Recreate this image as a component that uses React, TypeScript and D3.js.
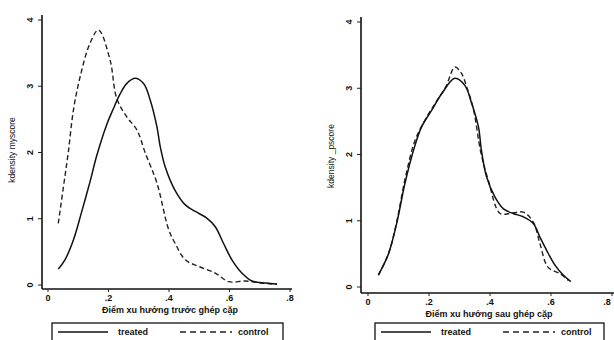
import React, { useEffect, useRef } from "react";
import * as d3 from "d3";

// kdensity before matching (myscore)
const beforeTreatedX = [0.034, 0.056, 0.084, 0.111, 0.139, 0.161, 0.194, 0.216, 0.238, 0.26, 0.288, 0.316, 0.338, 0.36, 0.371, 0.387, 0.42, 0.454, 0.487, 0.525, 0.553, 0.58, 0.608, 0.641, 0.674, 0.719, 0.757];
const beforeTreatedY = [0.24, 0.38, 0.68, 1.1, 1.56, 1.95, 2.42, 2.66, 2.88, 3.04, 3.12, 3.04, 2.79, 2.39, 2.09, 1.79, 1.43, 1.21, 1.11, 1.01, 0.88, 0.63, 0.38, 0.18, 0.06, 0.03, 0.015];
const beforeControlX = [0.034, 0.051, 0.067, 0.084, 0.106, 0.139, 0.167, 0.205, 0.227, 0.26, 0.294, 0.321, 0.36, 0.398, 0.42, 0.454, 0.498, 0.553, 0.597, 0.652, 0.708, 0.757];
const beforeControlY = [0.93, 1.48, 2.0, 2.64, 3.14, 3.65, 3.85, 3.4, 2.82, 2.54, 2.34, 2.0, 1.54, 0.85, 0.63, 0.38, 0.28, 0.18, 0.05, 0.06, 0.03, 0.01];

// kdensity after matching (_pscore)
const afterTreatedX = [0.034, 0.067, 0.094, 0.121, 0.149, 0.176, 0.209, 0.242, 0.285, 0.318, 0.34, 0.362, 0.372, 0.389, 0.416, 0.444, 0.476, 0.509, 0.542, 0.564, 0.586, 0.613, 0.64, 0.665];
const afterTreatedY = [0.18, 0.5, 0.96, 1.56, 2.06, 2.42, 2.67, 2.92, 3.15, 3.04, 2.77, 2.42, 2.06, 1.66, 1.36, 1.18, 1.11, 1.06, 0.96, 0.75, 0.55, 0.33, 0.18, 0.08];
const afterControlX = [0.034, 0.067, 0.094, 0.121, 0.154, 0.187, 0.22, 0.255, 0.285, 0.307, 0.325, 0.345, 0.37, 0.395, 0.433, 0.466, 0.509, 0.542, 0.564, 0.59, 0.63, 0.657];
const afterControlY = [0.18, 0.5, 0.98, 1.62, 2.21, 2.52, 2.77, 3.02, 3.32, 3.22, 3.0, 2.7, 2.03, 1.6, 1.11, 1.11, 1.13, 0.98, 0.65, 0.3, 0.2, 0.1];

const xTicks = [0, 0.2, 0.4, 0.6, 0.8];
const yTicks = [0, 1, 2, 3, 4];
const seriesNames = ["treated", "control"];

const FONT = "'Liberation Sans', Arial, sans-serif";
const W = 614;

function zip(xs: number[], ys: number[]) {
	return xs.map((x, i) => [x, ys[i]] as [number, number]);
}

function drawPanel(svg: any, o: any) {
	const x = d3.scaleLinear().domain([0, 0.8]).range([o.x0, o.x8]);
	const y = d3.scaleLinear().domain([0, 4]).range([o.y0, o.y4]);
	const g = svg.append("g");

	// axis lines
	g.append("line")
		.attr("x1", o.axisX).attr("x2", o.axisX)
		.attr("y1", o.axisTop).attr("y2", o.axisY)
		.attr("stroke", "#111").attr("stroke-width", 1.6);
	g.append("line")
		.attr("x1", o.axisX).attr("x2", o.axisRight)
		.attr("y1", o.axisY).attr("y2", o.axisY)
		.attr("stroke", "#111").attr("stroke-width", 1.6);

	// y ticks, rotated labels like stata
	yTicks.forEach((t) => {
		g.append("line")
			.attr("x1", o.axisX - 4).attr("x2", o.axisX)
			.attr("y1", y(t)).attr("y2", y(t))
			.attr("stroke", "#222").attr("stroke-width", 1);
		g.append("text")
			.attr("transform", "translate(" + (o.axisX - 9) + "," + y(t) + ") rotate(-90)")
			.attr("text-anchor", "middle")
			.attr("font-family", FONT).attr("font-size", 9).attr("font-weight", "bold")
			.attr("fill", "#111")
			.text(t);
	});

	// x ticks (last label kept inside the page)
	const fmt = (d: number) => (d === 0 ? "0" : d3.format(".1f")(d).replace(/^0/, ""));
	xTicks.forEach((t) => {
		g.append("line")
			.attr("x1", x(t)).attr("x2", x(t))
			.attr("y1", o.axisY).attr("y2", o.axisY + 3)
			.attr("stroke", "#222").attr("stroke-width", 1);
		g.append("text")
			.attr("x", Math.min(x(t), W - 7)).attr("y", o.axisY + 12)
			.attr("text-anchor", "middle")
			.attr("font-family", FONT).attr("font-size", 9).attr("font-weight", "bold")
			.attr("fill", "#111")
			.text(fmt(t));
	});

	// titles
	g.append("text")
		.attr("x", o.titleX).attr("y", o.axisY + 24)
		.attr("text-anchor", "middle")
		.attr("font-family", FONT).attr("font-size", 9).attr("font-weight", "bold")
		.attr("fill", "#111")
		.text(o.xTitle);
	g.append("text")
		.attr("transform", "translate(" + o.yTitleX + "," + o.yTitleY + ") rotate(-90)")
		.attr("text-anchor", "middle")
		.attr("font-family", FONT).attr("font-size", 8.5)
		.attr("fill", "#111")
		.text(o.yTitle);

	const line = d3.line()
		.x((d: any) => x(d[0]))
		.y((d: any) => y(d[1]))
		.curve(d3.curveCatmullRom.alpha(0.5));

	g.append("path")
		.datum(o.control)
		.attr("d", line)
		.attr("fill", "none")
		.attr("stroke", "#222")
		.attr("stroke-width", 1.4)
		.attr("stroke-dasharray", "5,3");
	g.append("path")
		.datum(o.treated)
		.attr("d", line)
		.attr("fill", "none")
		.attr("stroke", "#111")
		.attr("stroke-width", 1.5);

	// legend
	const lg = g.append("g");
	lg.append("rect")
		.attr("x", o.legX).attr("y", 323)
		.attr("width", o.legW).attr("height", 24)
		.attr("fill", "white").attr("stroke", "#111").attr("stroke-width", 1.3);
	const ly = 332;
	lg.append("line")
		.attr("x1", o.legX + 6).attr("x2", o.legX + 56)
		.attr("y1", ly).attr("y2", ly)
		.attr("stroke", "#111").attr("stroke-width", 1.5);
	lg.append("text")
		.attr("x", o.legX + 66).attr("y", ly + 3)
		.attr("font-family", FONT).attr("font-size", 9).attr("font-weight", "bold")
		.attr("fill", "#111")
		.text(seriesNames[0]);
	lg.append("line")
		.attr("x1", o.legX + 128).attr("x2", o.legX + 180)
		.attr("y1", ly).attr("y2", ly)
		.attr("stroke", "#222").attr("stroke-width", 1.4)
		.attr("stroke-dasharray", "6,4");
	lg.append("text")
		.attr("x", o.legX + 186).attr("y", ly + 3)
		.attr("font-family", FONT).attr("font-size", 9).attr("font-weight", "bold")
		.attr("fill", "#111")
		.text(seriesNames[1]);
}

export default function App() {
	const ref = useRef<SVGSVGElement>(null);

	useEffect(() => {
		const svg = d3.select(ref.current);
		svg.selectAll("*").remove();

		drawPanel(svg, {
			x0: 48, x8: 290, y0: 285, y4: 20,
			axisX: 42, axisY: 289, axisTop: 15, axisRight: 292,
			titleX: 170, xTitle: "Điểm xu hướng trước ghép cặp",
			yTitleX: 15, yTitleY: 150, yTitle: "kdensity myscore",
			treated: zip(beforeTreatedX, beforeTreatedY),
			control: zip(beforeControlX, beforeControlY),
			legX: 52, legW: 231
		});

		drawPanel(svg, {
			x0: 368, x8: 612, y0: 287, y4: 22,
			axisX: 361, axisY: 293, axisTop: 17, axisRight: 614,
			titleX: 489, xTitle: "Điểm xu hướng sau ghép cặp",
			yTitleX: 334, yTitleY: 156, yTitle: "kdensity _pscore",
			treated: zip(afterTreatedX, afterTreatedY),
			control: zip(afterControlX, afterControlY),
			legX: 375, legW: 229
		});
	}, []);

	return (
		<svg
			ref={ref}
			width={W}
			height={340}
			style={{ position: "absolute", left: 0, top: 0, background: "#fff" }}
		/>
	);
}
